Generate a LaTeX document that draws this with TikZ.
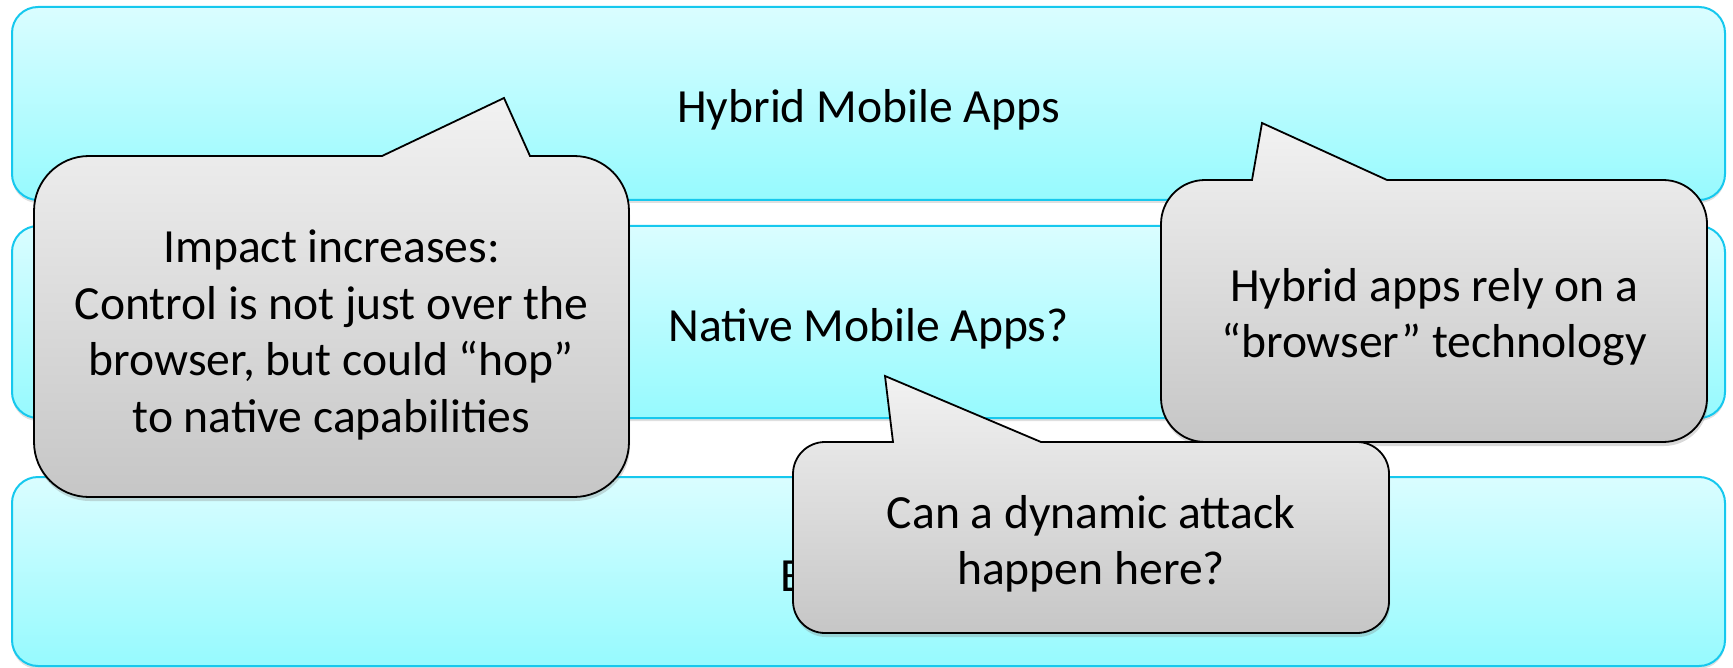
\documentclass[tikz,border=0pt]{standalone}
\usepackage{fontspec}
\setmainfont{Carlito}
\usetikzlibrary{shadows}

\definecolor{bandtop}{RGB}{218,253,255}
\definecolor{bandbot}{RGB}{150,250,254}
\definecolor{bandline}{RGB}{22,200,238}
\definecolor{bubtop}{RGB}{242,242,242}
\definecolor{bubbot}{RGB}{198,198,198}

\begin{document}
\begin{tikzpicture}[
  x=0.5pt, y=-0.5pt,
  font=\fontsize{23.8pt}{28.3pt}\selectfont,
  band/.style={draw=bandline, line width=1pt, rounded corners=13pt, top color=bandtop, bottom color=bandbot,
    minimum width=856.5pt, text height=19.5pt, text depth=0pt,
    drop shadow={shadow xshift=0pt, shadow yshift=-1.5pt, opacity=0.25}},
  bubble/.style={draw=black, line width=0.9pt, top color=bubtop, bottom color=bubbot,
    drop shadow={shadow xshift=0.5pt, shadow yshift=-2pt, opacity=0.3}},
  bubtext/.style={align=center, inner sep=0pt}
]
\useasboundingbox (0,0) rectangle (1733,668);

% the three layers
\node[band, minimum height=96.5pt] (hybrid) at (868.5,103.5) {Hybrid Mobile Apps};
\node[band, minimum height=96pt] (native) at (868.5,322) {Native Mobile Apps?};
\node[band, minimum height=94.5pt] (browsers) at (868.5,571.5) {Browsers};

% speech bubbles, pointer tips first
\coordinate (tip1) at (504,98);
\coordinate (tip2) at (1262,123);
\coordinate (tip3) at (885,376);

\path[bubble] (89,156) -- (382,156) -- (tip1) -- (530,156) -- (574,156)
  arc[start angle=90, end angle=0, radius=27.5pt] -- (629,442)
  arc[start angle=0, end angle=-90, radius=27.5pt] -- (89,497)
  arc[start angle=-90, end angle=-180, radius=27.5pt] -- (34,211)
  arc[start angle=180, end angle=90, radius=27.5pt] -- cycle;
\node[bubtext] (impact) at (331.5,335)
  {Impact increases:\\Control is not just over the\\browser, but could “hop”\\to native capabilities};

\path[bubble] (1205,180) -- (1252,180) -- (tip2) -- (1387,180) -- (1663,180)
  arc[start angle=90, end angle=0, radius=22pt] -- (1707,398)
  arc[start angle=0, end angle=-90, radius=22pt] -- (1205,442)
  arc[start angle=-90, end angle=-180, radius=22pt] -- (1161,224)
  arc[start angle=180, end angle=90, radius=22pt] -- cycle;
\node[bubtext] (rely) at (1434,317) {Hybrid apps rely on a\\“browser” technology};

\path[bubble] (825,442) -- (893,442) -- (tip3) -- (1041,442) -- (1357,442)
  arc[start angle=90, end angle=0, radius=16pt] -- (1389,601)
  arc[start angle=0, end angle=-90, radius=16pt] -- (825,633)
  arc[start angle=-90, end angle=-180, radius=16pt] -- (793,474)
  arc[start angle=180, end angle=90, radius=16pt] -- cycle;
\node[bubtext] (attack) at (1091,544) {Can a dynamic attack\\happen here?};
\end{tikzpicture}
\end{document}
